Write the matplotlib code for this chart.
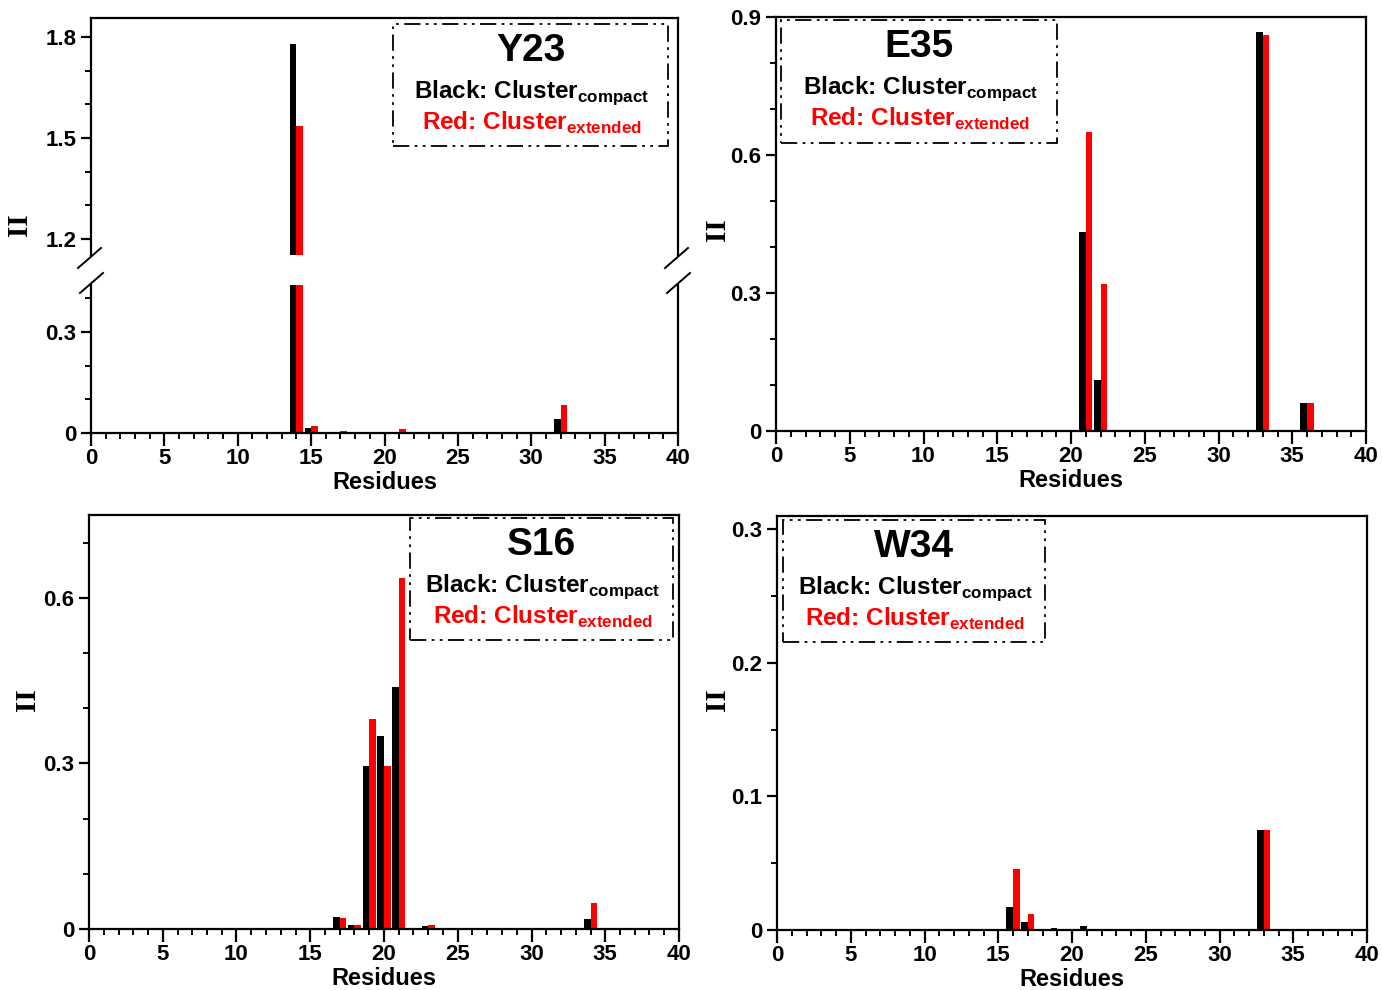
import numpy as np
import matplotlib
matplotlib.use('Agg')
from matplotlib import pyplot as plt
from matplotlib.patches import Rectangle
from matplotlib.ticker import MultipleLocator

plt.rcParams['font.family'] = 'Liberation Sans'
plt.rcParams['font.weight'] = 'bold'
plt.rcParams['mathtext.fontset'] = 'custom'
plt.rcParams['mathtext.bf'] = 'Liberation Sans:bold'
plt.rcParams['mathtext.rm'] = 'Liberation Sans:bold'

# residue numbers with nonzero values, black = compact, red = extended
y23_res = [14, 15, 16, 17, 21, 32]
y23_black = [1.78, 0.014, 0.003, 0.0, 0.004, 0.042]
y23_red = [1.535, 0.021, 0.004, 0.006, 0.012, 0.083]

e35_res = [21, 22, 33, 36]
e35_black = [0.433, 0.111, 0.867, 0.061]
e35_red = [0.650, 0.320, 0.861, 0.061]

s16_res = [17, 18, 19, 20, 21, 23, 34]
s16_black = [0.022, 0.007, 0.295, 0.350, 0.438, 0.005, 0.019]
s16_red = [0.020, 0.008, 0.380, 0.295, 0.636, 0.007, 0.047]

w34_res = [16, 17, 19, 21, 33]
w34_black = [0.0175, 0.0062, 0.0013, 0.003, 0.075]
w34_red = [0.0458, 0.0118, 0.0, 0.0005, 0.075]

W, H = 1382, 990
fig = plt.figure(figsize=(W / 100, H / 100), dpi=100)


def rect(x0, y0, x1, y1):
    # pixel box (top-left origin) -> figure fraction
    return [x0 / W, 1 - y1 / H, (x1 - x0) / W, (y1 - y0) / H]


def style(ax, xticks=True):
    for s in ax.spines.values():
        s.set_linewidth(1.6)
    ax.tick_params(which='major', direction='out', length=7, width=1.6, labelsize=16)
    ax.tick_params(which='minor', direction='out', length=4.5, width=1.4)
    ax.tick_params(right=False, top=False, which='both')
    if xticks:
        ax.set_xlim(0, 40)
        ax.xaxis.set_major_locator(MultipleLocator(5))
        ax.xaxis.set_minor_locator(MultipleLocator(1))
        ax.tick_params(axis='x', which='major', length=9, pad=2)
        ax.set_xlabel('Residues', fontsize=17, fontweight='bold', labelpad=1)


def bars(ax, res, b, r):
    res = np.array(res)
    w = 0.45
    ax.bar(res - w / 2, b, width=w, color='black')
    ax.bar(res + w / 2, r, width=w, color='red')


def legend_box(px, name):
    x0, y0, x1, y1 = px
    fig.patches.append(Rectangle((x0 / W, 1 - y1 / H), (x1 - x0) / W, (y1 - y0) / H,
                                 transform=fig.transFigure, fill=False, lw=1.3,
                                 ls=(0, (9, 3, 1.5, 3, 1.5, 3)), color='black'))
    cx = (x0 + x1) / 2
    fig.text(cx / W, 1 - (y0 + 27) / H, name, fontsize=28, fontweight='bold',
             ha='center', va='center')
    fig.text((cx + 1) / W, 1 - (y0 + 69) / H, r'Black: Cluster$_{\mathbf{compact}}$',
             fontsize=17.5, fontweight='bold', ha='center', va='center')
    fig.text((cx + 1) / W, 1 - (y0 + 99) / H, r'Red: Cluster$_{\mathbf{extended}}$',
             fontsize=17.5, fontweight='bold', ha='center', va='center', color='red')


def ylab(x, y):
    fig.text(x / W, 1 - y / H, 'II', family='Liberation Serif', fontsize=21,
             fontweight='bold', rotation=90, ha='center', va='center')


# --- Y23 : broken axis ---
ax_up = fig.add_axes(rect(91, 18, 678, 255))
ax_lo = fig.add_axes(rect(91, 285, 678, 433))
for ax in (ax_up, ax_lo):
    bars(ax, y23_res, y23_black, y23_red)
    ax.yaxis.set_minor_locator(MultipleLocator(0.1))
style(ax_lo)
style(ax_up, xticks=False)
ax_up.set_xlim(0, 40)
ax_up.set_ylim(1.152, 1.856)
ax_up.set_yticks([1.2, 1.5, 1.8])
ax_up.set_yticklabels(['1.2', '1.5', '1.8'])
ax_up.spines['bottom'].set_visible(False)
ax_up.tick_params(axis='x', which='both', bottom=False, labelbottom=False)
ax_lo.set_ylim(0, 0.44)
ax_lo.set_yticks([0, 0.3])
ax_lo.set_yticklabels(['0', '0.3'])
ax_lo.spines['top'].set_visible(False)
for xx in (0, 1):
    d = dict(transform=fig.transFigure, color='black', lw=1.4, clip_on=False)
    base = 91 if xx == 0 else 678
    fig.add_artist(plt.Line2D([(base - 13) / W, (base + 10) / W],
                              [1 - 268 / H, 1 - 248 / H], **d))
    fig.add_artist(plt.Line2D([(base - 11) / W, (base + 12) / W],
                              [1 - 293 / H, 1 - 273 / H], **d))
ylab(20, 225)
legend_box((393, 24, 668, 146), 'Y23')

# --- E35 ---
ax = fig.add_axes(rect(776, 17, 1366, 431))
bars(ax, e35_res, e35_black, e35_red)
style(ax)
ax.set_ylim(0, 0.9)
ax.set_yticks([0, 0.3, 0.6, 0.9])
ax.set_yticklabels(['0', '0.3', '0.6', '0.9'])
ax.yaxis.set_minor_locator(MultipleLocator(0.1))
ylab(717, 230)
legend_box((781, 20, 1057, 143), 'E35')

# --- S16 ---
ax = fig.add_axes(rect(89, 515, 679, 929))
bars(ax, s16_res, s16_black, s16_red)
style(ax)
ax.set_ylim(0, 0.75)
ax.set_yticks([0, 0.3, 0.6])
ax.set_yticklabels(['0', '0.3', '0.6'])
ax.yaxis.set_minor_locator(MultipleLocator(0.1))
ylab(27, 700)
legend_box((410, 518, 673, 640), 'S16')

# --- W34 ---
ax = fig.add_axes(rect(777, 516, 1367, 930))
bars(ax, w34_res, w34_black, w34_red)
style(ax)
ax.set_ylim(0, 0.31)
ax.set_yticks([0, 0.1, 0.2, 0.3])
ax.set_yticklabels(['0', '0.1', '0.2', '0.3'])
ax.yaxis.set_minor_locator(MultipleLocator(0.05))
ylab(717, 700)
legend_box((783, 520, 1045, 642), 'W34')

fig.savefig('out.png', dpi=100)
